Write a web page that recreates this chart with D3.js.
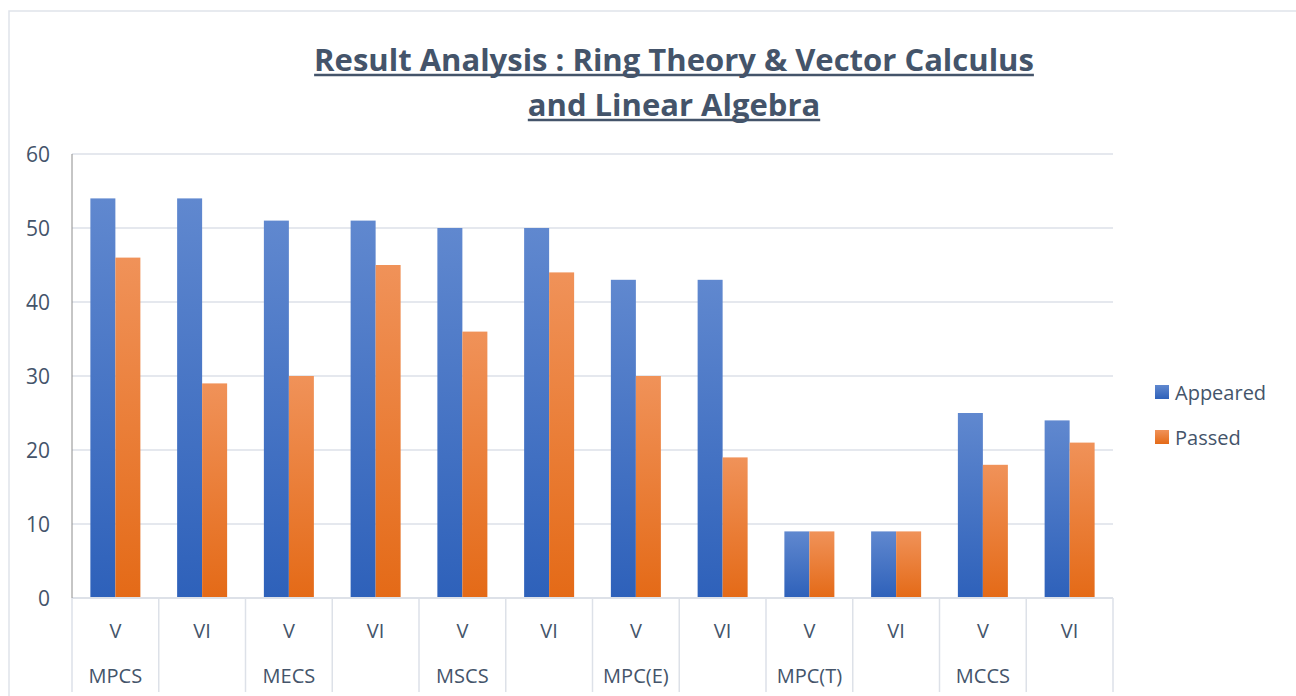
<!DOCTYPE html>
<html lang="en">
<head>
  <meta charset="UTF-8">
  <title>Result Analysis : Ring Theory & Vector Calculus and Linear Algebra</title>
  <style>
    body { margin: 0; background: #fff; }
    svg { display: block; font-family: "Open Sans", "Noto Sans", sans-serif; }
    .txt { fill: #44546a; }
  </style>
</head>
<body>
  <svg id="chart" width="1296" height="696"></svg>
  <script src="https://d3js.org/d3.v7.min.js"></script>
  <script>
    // data
    const semesters = ["V", "VI", "V", "VI", "V", "VI", "V", "VI", "V", "VI", "V", "VI"];
    const groups = ["MPCS", "", "MECS", "", "MSCS", "", "MPC(E)", "", "MPC(T)", "", "MCCS", ""];
    const appeared = [54, 54, 51, 51, 50, 50, 43, 43, 9, 9, 25, 24];
    const passed = [46, 29, 30, 45, 36, 44, 30, 19, 9, 9, 18, 21];
    const seriesNames = ["Appeared", "Passed"];
    const yTicks = [0, 10, 20, 30, 40, 50, 60];
    const titleLines = ["Result Analysis : Ring Theory & Vector Calculus", "and Linear Algebra"];

    const svg = d3.select("#chart");
    const plot = { left: 72, right: 1113, top: 154, bottom: 598 };

    // gradients, lighter at the top like the original
    const defs = svg.append("defs");
    const grads = [
      { id: "gBlue", top: "#6088cf", bottom: "#2e61ba" },
      { id: "gOrange", top: "#f09259", bottom: "#e46a17" }
    ];
    grads.forEach(g => {
      const lg = defs.append("linearGradient").attr("id", g.id)
        .attr("x1", 0).attr("y1", 0).attr("x2", 0).attr("y2", 1);
      lg.append("stop").attr("offset", "0%").attr("stop-color", g.top);
      lg.append("stop").attr("offset", "100%").attr("stop-color", g.bottom);
    });

    // chart frame
    svg.append("rect")
      .attr("x", 9).attr("y", 11).attr("width", 1400).attr("height", 800)
      .attr("fill", "none").attr("stroke", "#dfe3ea").attr("stroke-width", 1.5);

    const idx = d3.range(appeared.length);
    const x = d3.scaleBand().domain(idx).range([plot.left, plot.right]).padding(0);
    const xs = d3.scaleBand().domain(seriesNames).range([0, x.bandwidth()])
      .paddingInner(0).paddingOuter(0.735);
    const y = d3.scaleLinear().domain([0, 60]).range([plot.bottom, plot.top]);

    // gridlines
    svg.append("g")
      .selectAll("line")
      .data(yTicks.filter(d => d > 0))
      .join("line")
        .attr("x1", plot.left).attr("x2", plot.right)
        .attr("y1", d => y(d)).attr("y2", d => y(d))
        .attr("stroke", "#dde1e8").attr("stroke-width", 1.5);

    // y labels
    svg.append("g")
      .selectAll("text")
      .data(yTicks)
      .join("text")
        .attr("class", "txt")
        .attr("x", 50).attr("y", d => y(d))
        .attr("text-anchor", "end").attr("dominant-baseline", "central")
        .attr("font-size", 21)
        .text(d => d);

    // bars
    const seriesData = [appeared, passed];
    const fills = ["url(#gBlue)", "url(#gOrange)"];
    seriesNames.forEach((name, s) => {
      svg.append("g")
        .selectAll("rect")
        .data(idx)
        .join("rect")
          .attr("x", i => x(i) + xs(name))
          .attr("width", xs.bandwidth())
          .attr("y", i => y(seriesData[s][i]))
          .attr("height", i => y(0) - y(seriesData[s][i]))
          .attr("fill", fills[s]);
    });

    // category axis: baseline and separators
    svg.append("line")
      .attr("x1", plot.left).attr("x2", plot.right)
      .attr("y1", plot.bottom).attr("y2", plot.bottom)
      .attr("stroke", "#dde1e8").attr("stroke-width", 2);
    svg.append("g")
      .selectAll("line")
      .data(d3.range(appeared.length + 1))
      .join("line")
        .attr("x1", i => plot.left + i * x.step()).attr("x2", i => plot.left + i * x.step())
        .attr("y1", plot.bottom).attr("y2", 692)
        .attr("stroke", "#dde1e8").attr("stroke-width", 1.5);

    // value axis line
    svg.append("line")
      .attr("x1", plot.left).attr("x2", plot.left)
      .attr("y1", plot.top).attr("y2", plot.bottom)
      .attr("stroke", "#8c8c8c").attr("stroke-width", 1);

    // semester and group labels
    svg.append("g")
      .selectAll("text")
      .data(idx)
      .join("text")
        .attr("class", "txt")
        .attr("x", i => x(i) + x.bandwidth() / 2).attr("y", 630)
        .attr("text-anchor", "middle").attr("dominant-baseline", "central")
        .attr("font-size", 20)
        .text(i => semesters[i]);
    svg.append("g")
      .selectAll("text")
      .data(idx)
      .join("text")
        .attr("class", "txt")
        .attr("x", i => x(i) + x.bandwidth() / 2).attr("y", 675)
        .attr("text-anchor", "middle").attr("dominant-baseline", "central")
        .attr("font-size", 20)
        .text(i => groups[i]);

    // legend
    const legend = svg.append("g").attr("transform", "translate(1155,0)");
    const legY = [392, 437];
    seriesNames.forEach((name, s) => {
      legend.append("rect")
        .attr("x", 0).attr("y", legY[s] - 7).attr("width", 14).attr("height", 14)
        .attr("fill", fills[s]);
      legend.append("text")
        .attr("class", "txt")
        .attr("x", 20).attr("y", legY[s])
        .attr("dominant-baseline", "central")
        .attr("font-size", 20)
        .text(name);
    });

    // title, bold and underlined
    const titleG = svg.append("g");
    const titleY = [59, 104];
    titleLines.forEach((line, k) => {
      const t = titleG.append("text")
        .attr("class", "txt")
        .attr("x", 674).attr("y", titleY[k])
        .attr("text-anchor", "middle").attr("dominant-baseline", "central")
        .attr("font-size", 31).attr("font-weight", "bold")
        .text(line);
      const w = t.node().getComputedTextLength();
      titleG.append("line")
        .attr("x1", 674 - w / 2).attr("x2", 674 + w / 2)
        .attr("y1", titleY[k] + 16).attr("y2", titleY[k] + 16)
        .attr("stroke", "#44546a").attr("stroke-width", 2.5);
    });
  </script>
</body>
</html>
